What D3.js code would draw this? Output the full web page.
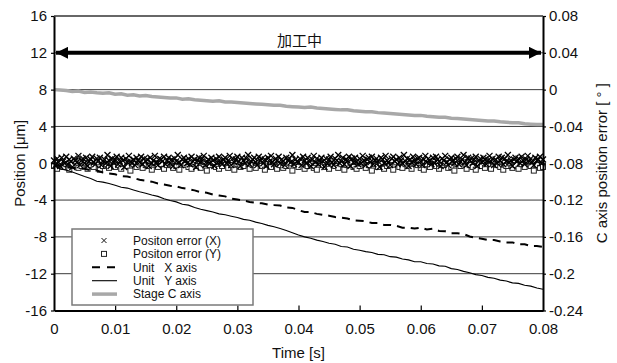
<!DOCTYPE html>
<html>
<head>
<meta charset="utf-8">
<script src="https://cdn.jsdelivr.net/npm/d3@7"></script>
<style>
  body { margin: 0; background: #fff; }
  svg { display: block; font-family: "Liberation Sans", Arial, sans-serif; }
</style>
</head>
<body>
<div id="chart"></div>
<script>
// sample spacing of the recorded data
const lineStep = 0.001;
const errXStep = 0.00025;
const errYStep = 0.0005;

const xTicks = [0, 0.01, 0.02, 0.03, 0.04, 0.05, 0.06, 0.07, 0.08];
const yLeftTicks = [-16, -12, -8, -4, 0, 4, 8, 12, 16];
const yRightTicks = [-0.24, -0.2, -0.16, -0.12, -0.08, -0.04, 0, 0.04, 0.08];

// Unit X axis [um]
const unitX = [-0.2,-0.3,-0.45,-0.5,-0.6,-0.6,-0.75,-0.8,-1.0,-1.1,
  -1.2,-1.4,-1.45,-1.6,-1.8,-1.9,-2.0,-2.2,-2.3,-2.45,
  -2.5,-2.7,-2.8,-2.95,-3.15,-3.2,-3.4,-3.5,-3.6,-3.85,
  -3.95,-4.05,-4.2,-4.3,-4.35,-4.5,-4.55,-4.6,-4.8,-4.85,
  -5.1,-5.3,-5.3,-5.5,-5.6,-5.7,-5.85,-5.9,-6.0,-6.2,
  -6.25,-6.3,-6.5,-6.5,-6.7,-6.7,-6.8,-7.0,-7.0,-7.1,
  -7.0,-7.2,-7.1,-7.35,-7.4,-7.6,-7.6,-7.7,-7.95,-8.1,
  -8.2,-8.35,-8.35,-8.5,-8.6,-8.6,-8.8,-8.8,-9.0,-9.0,-9.1];

// Unit Y axis [um]
const unitY = [-0.3,-0.6,-0.75,-0.95,-1.2,-1.45,-1.65,-1.95,-2.05,-2.2,
  -2.4,-2.6,-2.7,-2.9,-3.1,-3.25,-3.45,-3.6,-3.85,-4.05,
  -4.2,-4.45,-4.55,-4.8,-5.0,-5.15,-5.3,-5.5,-5.6,-5.75,
  -5.9,-6.1,-6.2,-6.4,-6.55,-6.75,-6.9,-7.1,-7.3,-7.55,
  -7.8,-8.0,-8.15,-8.35,-8.5,-8.7,-8.8,-9.05,-9.1,-9.35,
  -9.45,-9.6,-9.7,-9.9,-9.95,-10.15,-10.2,-10.4,-10.5,-10.7,
  -10.7,-10.9,-10.95,-11.15,-11.2,-11.45,-11.55,-11.75,-11.9,-12.1,
  -12.2,-12.4,-12.5,-12.7,-12.8,-13.0,-13.05,-13.25,-13.35,-13.55,-13.7];

// Stage C axis [deg]
const stageC = [0.000,-0.0005,-0.001,-0.002,-0.0015,-0.003,-0.0025,-0.0035,-0.004,-0.0035,
  -0.005,-0.0045,-0.006,-0.0055,-0.007,-0.0065,-0.0075,-0.008,-0.0085,-0.009,
  -0.009,-0.0105,-0.010,-0.011,-0.0115,-0.012,-0.0125,-0.012,-0.0135,-0.0135,
  -0.014,-0.0145,-0.015,-0.0155,-0.016,-0.0165,-0.017,-0.017,-0.018,-0.0185,
  -0.019,-0.0195,-0.019,-0.020,-0.0205,-0.021,-0.0215,-0.022,-0.022,-0.023,
  -0.0235,-0.024,-0.024,-0.025,-0.0255,-0.026,-0.0265,-0.027,-0.0275,-0.028,
  -0.028,-0.029,-0.0295,-0.030,-0.030,-0.031,-0.0315,-0.032,-0.0325,-0.033,
  -0.0335,-0.034,-0.034,-0.035,-0.0355,-0.036,-0.036,-0.037,-0.0375,-0.038,-0.038];

// Positon error (X) [um]
const errX = [0.3,-0.2,0.5,0.1,-0.3,0.6,0.2,0.0,0.7,-0.1,0.4,0.2,-0.4,0.5,0.3,0.1,0.8,-0.2,0.3,0.5,
  0.0,0.6,-0.3,0.2,0.4,0.7,0.1,-0.1,0.5,0.3,0.6,-0.2,0.2,0.4,0.0,0.9,0.3,-0.3,0.5,0.1,
  0.4,0.7,-0.1,0.2,0.6,0.3,-0.4,0.5,0.1,0.8,0.2,0.0,0.4,-0.2,0.6,0.3,0.1,0.7,-0.1,0.5,
  0.2,0.4,-0.3,0.6,0.0,0.3,0.8,0.1,-0.2,0.5,0.4,0.2,0.7,-0.1,0.3,0.6,0.0,0.4,-0.3,0.5,
  0.2,0.9,0.1,-0.2,0.4,0.6,0.3,0.0,0.5,-0.1,0.7,0.2,0.4,-0.4,0.3,0.6,0.1,0.5,0.8,-0.2,
  0.2,0.4,0.0,0.6,0.3,-0.3,0.5,0.1,0.7,0.2,-0.1,0.4,0.6,0.0,0.3,0.8,-0.2,0.5,0.1,0.4,
  0.7,0.2,-0.3,0.6,0.3,0.0,0.5,0.9,-0.1,0.2,0.4,0.6,0.1,-0.2,0.7,0.3,0.5,0.0,0.4,-0.3,
  0.6,0.2,0.8,0.1,-0.1,0.5,0.3,0.7,0.0,0.4,0.2,-0.2,0.6,0.3,0.5,0.1,0.9,-0.1,0.4,0.2,
  0.1,0.5,-0.2,0.7,0.3,0.0,0.6,0.2,-0.3,0.4,0.8,0.1,0.5,-0.1,0.3,0.6,0.2,-0.4,0.5,0.0,
  0.4,0.7,0.1,-0.2,0.5,0.3,0.9,0.0,0.2,0.6,-0.1,0.4,0.3,0.7,-0.3,0.5,0.1,0.6,0.2,-0.1,
  0.5,0.0,0.8,0.3,-0.2,0.4,0.6,0.1,0.7,-0.1,0.3,0.5,0.2,-0.4,0.6,0.4,0.0,0.8,0.3,0.1,
  -0.2,0.5,0.7,0.2,0.4,-0.1,0.6,0.3,0.0,0.9,0.2,0.5,-0.3,0.4,0.1,0.7,0.3,-0.1,0.5,0.6,
  0.2,-0.2,0.4,0.8,0.1,0.5,0.3,-0.1,0.6,0.0,0.7,0.4,0.2,-0.3,0.5,0.3,0.8,0.1,-0.2,0.4,
  0.6,0.3,0.0,0.5,0.7,-0.1,0.2,0.4,0.9,0.1,-0.2,0.6,0.3,0.5,0.0,0.4,0.7,-0.3,0.2,0.5,
  0.1,0.6,0.4,-0.1,0.3,0.8,0.2,0.5,-0.2,0.4,0.0,0.7,0.3,0.6,-0.1,0.5,0.2,0.9,0.1,0.3,
  -0.3,0.4,0.6,0.2,0.5,0.0,0.7,0.3,-0.1,0.4,0.8,0.2,0.5,0.1,-0.2,0.6,0.3,0.4,0.7,0.0,
  0.4];

// Positon error (Y) [um]
const errY = [-0.3,-0.6,0.1,-0.4,-0.1,-0.7,-0.2,0.2,-0.5,-0.3,0.0,-0.6,-0.2,-0.4,0.1,-0.7,-0.3,-0.1,-0.5,0.2,
  -0.4,-0.2,-0.6,0.0,-0.3,-0.8,-0.1,-0.4,0.1,-0.5,-0.2,-0.3,-0.7,0.0,-0.4,-0.1,-0.6,-0.2,0.2,-0.5,
  -0.3,-0.7,0.0,-0.2,-0.4,-0.6,0.1,-0.3,-0.5,-0.1,-0.8,-0.2,0.0,-0.4,-0.6,-0.3,0.1,-0.5,-0.2,-0.7,
  -0.1,-0.4,-0.3,0.2,-0.6,-0.2,-0.5,0.0,-0.3,-0.7,-0.1,-0.4,0.1,-0.6,-0.2,-0.5,-0.3,0.0,-0.8,-0.2,
  -0.4,0.1,-0.6,-0.3,-0.1,-0.5,-0.7,0.0,-0.2,-0.4,-0.6,0.2,-0.3,-0.5,-0.1,-0.7,-0.2,0.0,-0.4,-0.6,
  -0.3,0.1,-0.5,-0.2,-0.8,-0.1,-0.4,0.0,-0.6,-0.3,-0.2,-0.7,0.1,-0.4,-0.5,-0.1,-0.3,-0.6,0.0,-0.2,
  -0.5,-0.7,-0.1,-0.4,0.2,-0.3,-0.6,-0.2,0.0,-0.5,-0.4,-0.8,-0.1,-0.3,0.1,-0.6,-0.2,-0.4,-0.7,0.0,
  -0.3,-0.5,-0.1,-0.6,0.1,-0.2,-0.4,-0.7,-0.3,0.0,-0.5,-0.2,-0.6,-0.1,-0.4,0.2,-0.3,-0.8,-0.2,-0.5,-0.4];

const legendItems = ["Positon error (X)", "Positon error (Y)", "Unit   X axis", "Unit   Y axis", "Stage C axis"];
const bandLabel = "加工中";

const width = 617, height = 363;
const margin = { top: 16, right: 74, bottom: 52.5, left: 54 };

const svg = d3.select("#chart").append("svg")
  .attr("width", width)
  .attr("height", height);

const x = d3.scaleLinear().domain([0, 0.08]).range([margin.left, width - margin.right]);
const yL = d3.scaleLinear().domain([-16, 16]).range([height - margin.bottom, margin.top]);
const yR = d3.scaleLinear().domain([-0.24, 0.08]).range([height - margin.bottom, margin.top]);

const fmt = d => String(+d.toFixed(2));

// grid lines
svg.append("g").selectAll("line")
  .data(yLeftTicks.filter(v => v > -16))
  .join("line")
  .attr("x1", x(0)).attr("x2", x(0.08))
  .attr("y1", d => yL(d)).attr("y2", d => yL(d))
  .attr("stroke", "#3a3a3a")
  .attr("stroke-width", 1);

// stage C axis (grey thick)
const lineC = d3.line().x((d, i) => x(i * lineStep)).y(d => yR(d));
svg.append("path").datum(stageC)
  .attr("fill", "none").attr("stroke", "#a8a8a8").attr("stroke-width", 3.5)
  .attr("d", lineC);

// positon error markers (squares first, crosses on top)
svg.append("g").selectAll("rect")
  .data(errY)
  .join("rect")
  .attr("x", (d, i) => x(i * errYStep) - 2.5)
  .attr("y", d => yL(d) - 2.5)
  .attr("width", 5).attr("height", 5)
  .attr("fill", "#fff")
  .attr("stroke", "#222").attr("stroke-width", 1);
const errXg = svg.append("g").attr("stroke", "#000").attr("stroke-width", 1.3).attr("fill", "none");
errX.forEach((v, i) => {
  const cx = x(i * errXStep), cy = yL(v);
  errXg.append("path").attr("d", `M${cx - 3},${cy - 3}L${cx + 3},${cy + 3}M${cx - 3},${cy + 3}L${cx + 3},${cy - 3}`);
});

// unit lines
const lineL = d3.line().x((d, i) => x(i * lineStep)).y(d => yL(d));
svg.append("path").datum(unitX)
  .attr("fill", "none").attr("stroke", "#000").attr("stroke-width", 2)
  .attr("stroke-dasharray", "8,6")
  .attr("d", lineL);
svg.append("path").datum(unitY)
  .attr("fill", "none").attr("stroke", "#000").attr("stroke-width", 1.1)
  .attr("d", lineL);

// top border
svg.append("line")
  .attr("x1", x(0)).attr("x2", x(0.08))
  .attr("y1", yL(16)).attr("y2", yL(16))
  .attr("stroke", "#333").attr("stroke-width", 1.2);

// axes
const xAxis = svg.append("g")
  .attr("transform", `translate(0,${yL(-16)})`)
  .call(d3.axisBottom(x).tickValues(xTicks).tickFormat(fmt).tickSizeInner(-5).tickSizeOuter(0).tickPadding(13));
const yAxisL = svg.append("g")
  .attr("transform", `translate(${x(0)},0)`)
  .call(d3.axisLeft(yL).tickValues(yLeftTicks).tickFormat(fmt).tickSizeInner(3).tickSizeOuter(0).tickPadding(4));
const yAxisR = svg.append("g")
  .attr("transform", `translate(${x(0.08)},0)`)
  .call(d3.axisRight(yR).tickValues(yRightTicks).tickFormat(fmt).tickSizeInner(3).tickSizeOuter(0).tickPadding(3));

[xAxis, yAxisL, yAxisR].forEach(g => {
  g.select(".domain").attr("stroke", "#000").attr("stroke-width", 2);
  g.selectAll(".tick line").attr("stroke", "#000").attr("stroke-width", 1.2);
  g.selectAll(".tick text").attr("fill", "#111")
    .style("font-family", "'Liberation Sans', Arial, sans-serif").style("font-size", "15px");
});
xAxis.selectAll(".tick").filter(d => d === 0 || d === 0.08).select("line").remove();

// axis titles
svg.append("text")
  .attr("transform", `translate(25,${(yL(16) + yL(-16)) / 2}) rotate(-90)`)
  .attr("text-anchor", "middle").style("font-size", "15px").attr("fill", "#111")
  .text("Position [μm]");
svg.append("text")
  .attr("transform", `translate(607,${(yL(16) + yL(-16)) / 2}) rotate(-90)`)
  .attr("text-anchor", "middle").style("font-size", "15px").attr("fill", "#111")
  .text("C axis position error [ ° ]");
svg.append("text")
  .attr("x", (x(0) + x(0.08)) / 2).attr("y", 358)
  .attr("text-anchor", "middle").style("font-size", "15px").attr("fill", "#111")
  .text("Time [s]");

// machining band arrow
const defs = svg.append("defs");
defs.append("marker").attr("id", "ah")
  .attr("viewBox", "0 0 10 10").attr("refX", 10).attr("refY", 5)
  .attr("markerWidth", 3.2).attr("markerHeight", 3).attr("markerUnits", "strokeWidth")
  .attr("orient", "auto-start-reverse")
  .append("path").attr("d", "M0,0L10,5L0,10Z").attr("fill", "#000");
svg.append("line")
  .attr("x1", x(0) + 2).attr("x2", x(0.08) - 2)
  .attr("y1", yL(12)).attr("y2", yL(12))
  .attr("stroke", "#000").attr("stroke-width", 4)
  .attr("marker-start", "url(#ah)").attr("marker-end", "url(#ah)");
svg.append("text")
  .attr("x", (x(0) + x(0.08)) / 2 + 1).attr("y", 46)
  .attr("text-anchor", "middle")
  .style("font-family", "'Noto Sans CJK JP', sans-serif").style("font-size", "15px").attr("fill", "#111")
  .text(bandLabel);

// legend
const lg = svg.append("g").attr("transform", "translate(72,229)");
lg.append("rect").attr("width", 181).attr("height", 76)
  .attr("fill", "#fff").attr("stroke", "#7a7a7a").attr("stroke-width", 1.5);
const rowY = i => 11.5 + i * 13.4;
legendItems.forEach((label, i) => {
  lg.append("text").attr("x", 61).attr("y", rowY(i) + 4.3)
    .style("font-size", "12px").attr("fill", "#111")
    .style("white-space", "pre").attr("xml:space", "preserve")
    .text(label);
});
lg.append("path").attr("d", `M${32 - 2.5},${rowY(0) - 2.5}l5,5m-5,0l5,-5`).attr("stroke", "#111").attr("stroke-width", 1);
lg.append("rect").attr("x", 32 - 2.5).attr("y", rowY(1) - 2.5).attr("width", 5).attr("height", 5)
  .attr("fill", "none").attr("stroke", "#222").attr("stroke-width", 1);
lg.append("line").attr("x1", 20).attr("x2", 45).attr("y1", rowY(2)).attr("y2", rowY(2))
  .attr("stroke", "#000").attr("stroke-width", 2).attr("stroke-dasharray", "8,7");
lg.append("line").attr("x1", 20).attr("x2", 45).attr("y1", rowY(3)).attr("y2", rowY(3))
  .attr("stroke", "#000").attr("stroke-width", 1.1);
lg.append("line").attr("x1", 20).attr("x2", 45).attr("y1", rowY(4)).attr("y2", rowY(4))
  .attr("stroke", "#a8a8a8").attr("stroke-width", 3.5);
</script>
</body>
</html>
